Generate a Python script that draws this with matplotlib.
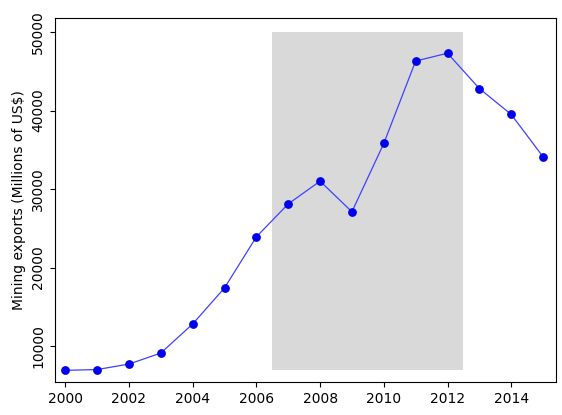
import matplotlib
matplotlib.use("Agg")
import matplotlib.pyplot as plt
import matplotlib.patches as mpatches

years = list(range(2000, 2016))
exports = [6900, 7000, 7700, 9100, 12800, 17400, 23900, 28100, 31000, 27100,
           35800, 46300, 47300, 42800, 39500, 34100]
shade_x = [2006.5, 2012.5]
shade_y = [7000, 50000]

fig = plt.figure(figsize=(5.62, 4.15), dpi=100)
ax = fig.add_axes([0.0979, 0.0795, 0.8911, 0.8771])
ax.add_patch(mpatches.Rectangle((shade_x[0], shade_y[0]), shade_x[1]-shade_x[0],
                                shade_y[1]-shade_y[0], facecolor='#d9d9d9', edgecolor='none', zorder=0))
ax.plot(years, exports, color='#4040ff', lw=0.9, zorder=2)
ax.scatter(years, exports, color='#0000ee', s=28, zorder=3)
ax.set_xlim(1999.68, 2015.4)
ax.set_ylim(5414, 51783)
ax.set_xticks(range(2000, 2016, 2))
ax.set_yticks(range(10000, 50001, 10000))
ax.set_yticklabels([str(v) for v in range(10000, 50001, 10000)], rotation=90, va='center')
ax.tick_params(labelsize=10)
ax.set_ylabel("Mining exports (Millions of US$)", fontsize=10)
for s in ax.spines.values():
    s.set_linewidth(0.8)
fig.savefig("out.png", dpi=100)
